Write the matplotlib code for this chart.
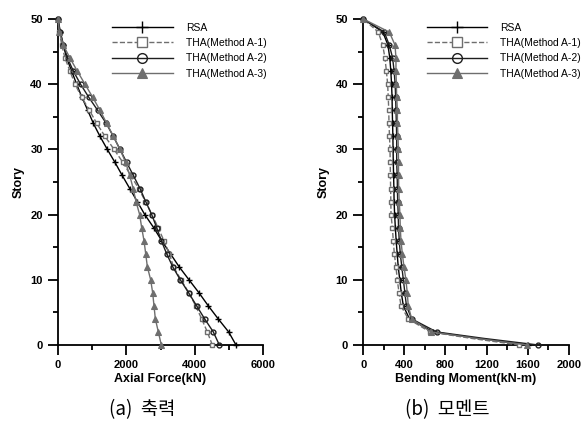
"""Story-wise axial force and bending moment profiles: RSA vs THA methods."""

import matplotlib

matplotlib.use("Agg")
import matplotlib.pyplot as plt
from matplotlib.ticker import MultipleLocator

plt.rcParams["font.family"] = ["Liberation Sans", "DejaVu Sans"]

# stories with markers (every 2nd story)
stories = list(range(0, 51, 2))

# (a) axial force (kN)
axial_rsa = [5210, 4995, 4690, 4400, 4127, 3834, 3545, 3290, 3035, 2800, 2540, 2320, 2100,
             1880, 1668, 1443, 1229, 1034, 870, 700, 546, 400, 254, 156, 59, 0]
axial_a1 = [4517, 4371, 4205, 4030, 3830, 3600, 3380, 3260, 3100, 2930, 2750, 2560, 2360,
            2130, 1900, 1640, 1376, 1132, 920, 693, 498, 351, 205, 110, 40, 0]
axial_a2 = [4722, 4546, 4293, 4058, 3824, 3580, 3357, 3180, 3024, 2888, 2743, 2567, 2400,
            2205, 2010, 1815, 1620, 1410, 1160, 900, 660, 450, 280, 160, 70, 0]
axial_a3 = [3024, 2937, 2849, 2810, 2771, 2712, 2615, 2567, 2517, 2449, 2390, 2283, 2200,
            2100, 1980, 1815, 1620, 1425, 1229, 1015, 790, 566, 351, 156, 39, 0]

# (b) bending moment (kN-m); story 1 added for the curve near the base
stories_m = [0, 1] + list(range(2, 51, 2))
moment_rsa = [1600, 1120, 680, 450, 390, 370, 355, 340, 330, 320, 312, 305, 300, 298,
              295, 292, 290, 288, 285, 282, 280, 275, 268, 258, 240, 190, 0]
moment_a1 = [1519, 1060, 650, 438, 367, 348, 331, 318, 302, 292, 283, 270, 268, 266,
             264, 262, 260, 255, 250, 248, 243, 237, 225, 211, 189, 146, 0]
moment_a2 = [1704, 1180, 714, 471, 420, 405, 390, 375, 360, 350, 343, 340, 335, 332,
             330, 325, 325, 325, 322, 318, 315, 310, 300, 286, 253, 204, 0]
moment_a3 = [1597, 1110, 660, 471, 438, 428, 415, 396, 380, 367, 360, 357, 350, 345,
             343, 343, 341, 338, 332, 332, 325, 322, 318, 318, 309, 253, 0]

labels = ["RSA", "THA(Method A-1)", "THA(Method A-2)", "THA(Method A-3)"]
styles = [
    dict(color="black", ls="-", marker="+", mfc="black", mec="black", ms=4.5, mew=1.0),
    dict(color="#6e6e6e", ls="--", marker="s", mfc="white", mec="#6e6e6e", ms=3.5, mew=1.0),
    dict(color="#1e1e1e", ls="-", marker="o", mfc="none", mec="#1e1e1e", ms=3.5, mew=1.0),
    dict(color="#6e6e6e", ls="-", marker="^", mfc="#6e6e6e", mec="#6e6e6e", ms=3.8, mew=0.8),
]

fig = plt.figure(figsize=(5.85, 4.21), dpi=100)
ax_a = fig.add_axes([58 / 585, 76 / 421, 205 / 585, 326 / 421])
ax_b = fig.add_axes([363.3 / 585, 76 / 421, 205.4 / 585, 326 / 421])

panels = [
    (ax_a, stories, [axial_rsa, axial_a1, axial_a2, axial_a3], 6000, 2000, 1000,
     "Axial Force(kN)", None, 0.239),
    (ax_b, stories_m, [moment_rsa, moment_a1, moment_a2, moment_a3], 2000, 400, 200,
     "Bending Moment(kN-m)", [i for i in range(len(stories_m)) if i != 1], 0.284),
]

for ax, ys, series, xmax, xmaj, xmin, xlabel, mevery, leg_x in panels:
    for vals, st, lab in zip(series, styles, labels):
        ax.plot(vals, ys, lw=1.0, label=lab, markevery=mevery, clip_on=False, zorder=3, **st)
    ax.set_xlim(0, xmax)
    ax.set_ylim(0, 50)
    ax.xaxis.set_major_locator(MultipleLocator(xmaj))
    ax.xaxis.set_minor_locator(MultipleLocator(xmin))
    ax.yaxis.set_major_locator(MultipleLocator(10))
    ax.yaxis.set_minor_locator(MultipleLocator(5))
    for side in ["top", "right"]:
        ax.spines[side].set_visible(False)
    for side in ["left", "bottom"]:
        ax.spines[side].set_linewidth(1.3)
    ax.tick_params(which="major", direction="out", length=7, width=1.3, pad=4, labelsize=8)
    ax.tick_params(which="minor", direction="out", length=3.6, width=1.3)
    for t in ax.get_xticklabels() + ax.get_yticklabels():
        t.set_fontweight("bold")
    ax.set_xlabel(xlabel, fontsize=9, fontweight="bold", labelpad=2)
    ax.set_ylabel("Story", fontsize=9, fontweight="bold", labelpad=4)
    ax.legend(loc="upper left", bbox_to_anchor=(leg_x, 1.005), frameon=False, fontsize=7.5,
              handlelength=5.8, handletextpad=1.25, labelspacing=0.52, borderpad=0,
              markerscale=2.0)

cap_font = ["Noto Sans CJK KR", "DejaVu Sans"]
fig.text(142 / 585, 11 / 421, "(a)  축력", ha="center", va="center", fontsize=13.5,
         family=cap_font)
fig.text(447.5 / 585, 11 / 421, "(b)  모멘트", ha="center", va="center", fontsize=13.5,
         family=cap_font)

fig.savefig("out.png", dpi=100)
plt.close(fig)
